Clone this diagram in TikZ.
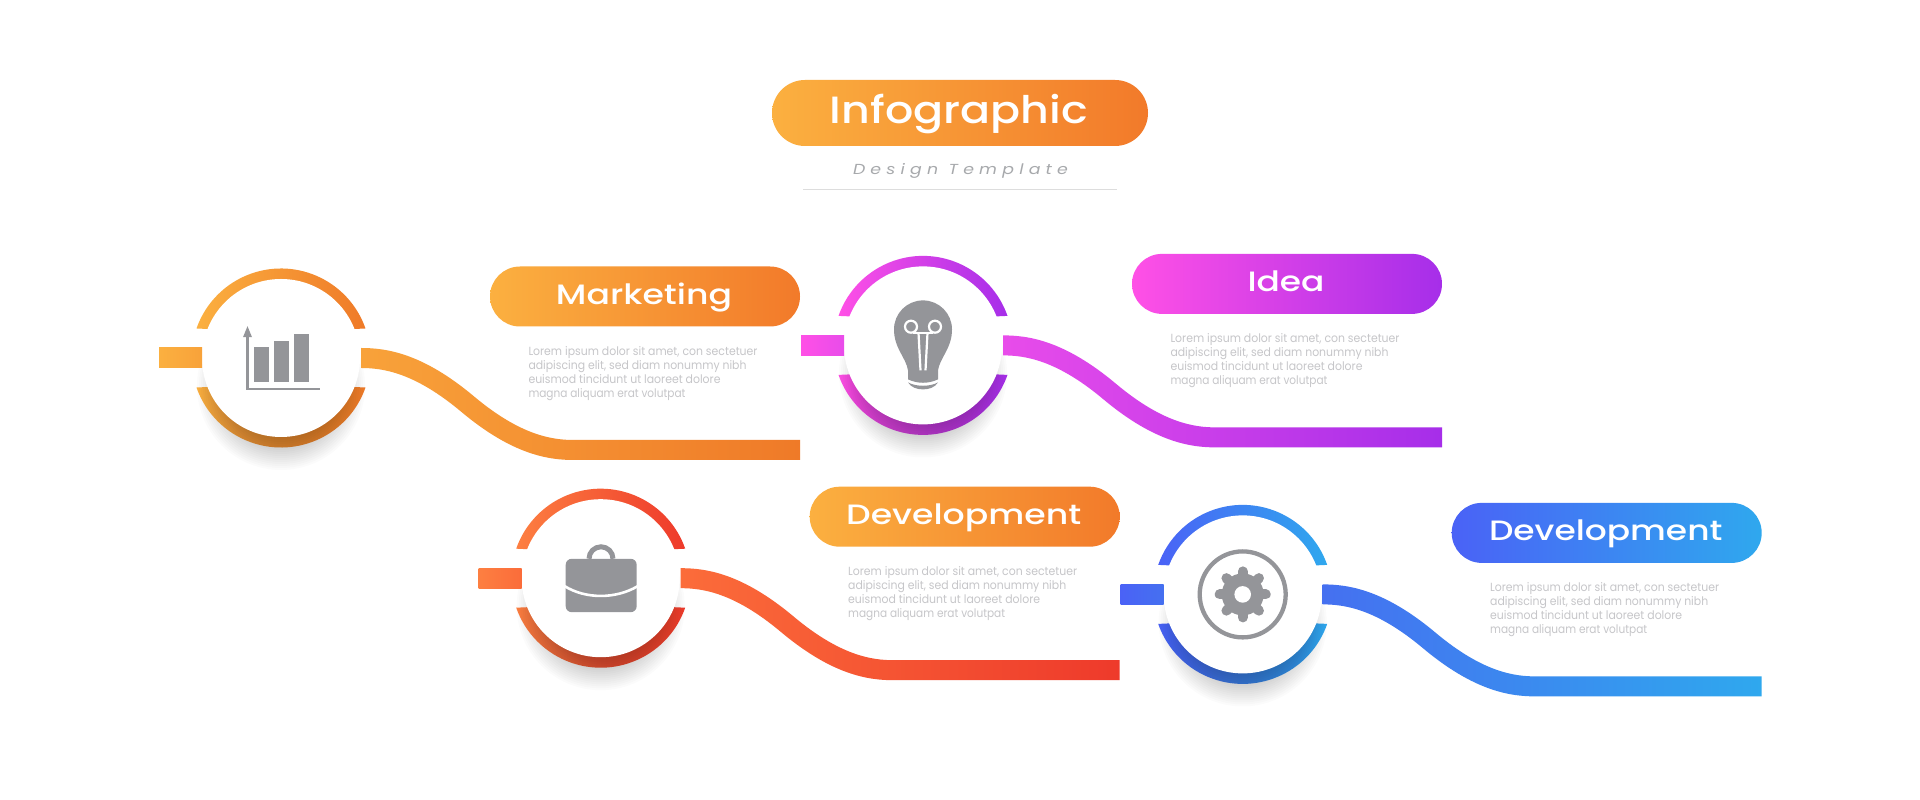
\documentclass[tikz,border=0pt]{standalone}
\usepackage{fontspec}
\usepackage{graphicx}
\usetikzlibrary{calc,shapes.misc}
\setmainfont{Poppins}
\newfontfamily\headfont{Poppins Medium}
\newfontfamily\bodyfont{Poppins}
\newfontfamily\subfont{Poppins}[LetterSpace=30]
\definecolor{iconc}{HTML}{949599}
\definecolor{bodyc}{HTML}{C6C6C9}
\definecolor{subc}{HTML}{A7A9AC}
\definecolor{rulec}{HTML}{DDDDDD}
\definecolor{oa}{HTML}{FBB040}\definecolor{om}{HTML}{F8A23A}\definecolor{ob}{HTML}{EF7A28}
\definecolor{pa}{HTML}{FF50E6}\definecolor{pm}{HTML}{E84CEA}\definecolor{pb}{HTML}{A62EE9}
\definecolor{ra}{HTML}{FD7F41}\definecolor{rm}{HTML}{FB6C3A}\definecolor{rb}{HTML}{EE3A2B}
\definecolor{ba}{HTML}{4A62F6}\definecolor{bm}{HTML}{4570F0}\definecolor{bb}{HTML}{2FA8EE}
\definecolor{opa}{HTML}{FBB040}\definecolor{opb}{HTML}{F27A2A}
\tikzset{
  disc/.style={circle,fill=white,minimum size=158pt,inner sep=0pt,outer sep=0pt},
  pill/.style={rounded rectangle,minimum width=310pt,minimum height=60pt,inner sep=0pt,outer sep=0pt},
  titlepill/.style={rounded rectangle,minimum width=376pt,minimum height=66pt,inner sep=0pt,outer sep=0pt},
  head/.style={anchor=base,inner sep=0pt,text=white,font=\headfont\fontsize{28}{30}\selectfont},
  bodyline/.style={anchor=base west,inner sep=0pt,text=bodyc,font=\bodyfont\fontsize{11.8}{14}\selectfont},
  icon/.style={fill=iconc},
  iconline/.style={draw=iconc},
  cut/.style={draw=white,line width=2.2pt,fill=none}
}
% id, cx, cy (from top), light, mid, dark, pill light, pill dark
\newcommand\stage[8]{%
  \pgfmathsetmacro\cyy{800-#3}
  \begin{scope}[shift={(#2,\cyy)}]
    \shade[left color=#4,right color=#6] (19.25:89.5) arc[start angle=19.25,end angle=160.75,radius=89.5]
      -- (158.2:78) arc[start angle=158.2,end angle=21.8,radius=78] -- cycle;
    \shade[left color=#4,right color=#6] (-19.25:89.5) arc[start angle=-19.25,end angle=-160.75,radius=89.5]
      -- (-158.2:78) arc[start angle=-158.2,end angle=-21.8,radius=78] -- cycle;
    \foreach \i in {0,...,17} \fill[black,opacity=.015] (0,-28) circle[radius=50+2*\i];
    \node[disc] (c#1) at (0,0) {};
  \end{scope}
  \shade[left color=#4,right color=#5] ($(c#1.west)+(-43,-10)$) rectangle ($(c#1.west)+(0,10)$);
  \begin{scope}[shift={($(c#1.east)+(1,0)$)},yscale=-1]
    \shade[left color=#5,right color=#6] (0,-10)
      .. controls (24.9,-10) and (61.06,-5.17) .. (112.9,38.34)
      .. controls (159.77,77.63) and (191.4,82) .. (213,82)
      -- (439,82) -- (439,102) -- (213,102)
      .. controls (188.1,102) and (151.94,97.17) .. (100.1,53.66)
      .. controls (53.23,14.37) and (21.6,10) .. (0,10) -- cycle;
  \end{scope}
  \node[pill,left color=#7,right color=#8] (p#1) at ([shift={(364,61.5)}]c#1) {};
}
\newcommand\stagetext[3]{%
  \node[head] (h#1) at ([shift={(363,53.5)}]c#1) {\resizebox{#2pt}{\height}{#3}};
  \node[bodyline] (la#1) at ([shift={(247.3,2.7)}]c#1) {\resizebox{229pt}{\height}{Lorem ipsum dolor sit amet, con sectetuer}};
  \node[bodyline] (lb#1) at ([shift={(247.3,-11.3)}]c#1) {\resizebox{218pt}{\height}{adipiscing elit, sed diam nonummy nibh}};
  \node[bodyline] (lc#1) at ([shift={(247.3,-25.3)}]c#1) {\resizebox{192pt}{\height}{euismod tincidunt ut laoreet dolore}};
  \node[bodyline] (ld#1) at ([shift={(247.3,-39.3)}]c#1) {\resizebox{157pt}{\height}{magna aliquam erat volutpat}};
}
\begin{document}
\begin{tikzpicture}[x=1pt,y=1pt]
\fill[white] (0,0) rectangle (1920,800);
\useasboundingbox (0,0) rectangle (1920,800);
% title
\node[titlepill,left color=opa,right color=opb] (title) at (960,687) {};
\node[anchor=base,inner sep=0pt,text=white,font=\headfont\fontsize{38}{40}\selectfont] (titletext) at (959,676) {\resizebox{258pt}{\height}{Infographic}};
\node[anchor=base,inner sep=0pt,text=subc,font=\subfont\itshape\fontsize{14.5}{16}\selectfont] (subtitle) at (960.5,625) {\resizebox{215pt}{\height}{Design Template}};
\coordinate (ruleL) at (803,610.7);
\coordinate (ruleR) at (1117,610.7);
\draw[rulec,line width=1pt] (ruleL) -- (ruleR);
% stages
\stage{1}{281}{358}{oa}{om}{ob}{opa}{opb}
\stagetext{1}{176}{Marketing}
\stage{2}{923}{345.4}{pa}{pm}{pb}{pa}{pb}
\stagetext{2}{77}{Idea}
\stage{3}{600.7}{578.2}{ra}{rm}{rb}{opa}{opb}
\stagetext{3}{235}{Development}
\stage{4}{1242.7}{594.4}{ba}{bm}{bb}{ba}{bb}
\stagetext{4}{233.4}{Development}
% chart icon
\begin{scope}[shift={(c1)}]
  \draw[iconline,line width=2.4pt] (-33.7,22) -- (-33.7,-31) -- (39,-31);
  \fill[icon] (-33.5,31.8) -- (-38,20.8) -- (-29,20.8) -- cycle;
  \fill[icon] (-27,-23.8) rectangle (-12,10.8);
  \fill[icon] (-7,-23.8) rectangle (8,16.8);
  \fill[icon] (13,-23.8) rectangle (28,24.2);
\end{scope}
% bulb icon
\begin{scope}[shift={(c2)}]
  \fill[icon] (-15,-34) -- (-15,-25) .. controls (-17,-12) and (-29,-3) .. (-29,16)
    arc[start angle=180,end angle=0,radius=29]
    .. controls (29,-3) and (17,-12) .. (15,-25) -- (15,-34)
    .. controls (5,-38.5) and (-5,-38.5) .. (-15,-34) -- cycle;
  \fill[icon] (-15,-37) .. controls (-7,-41.5) and (7,-41.5) .. (15,-37)
    .. controls (12,-42) and (6,-44) .. (0,-44) .. controls (-6,-44) and (-12,-42) .. (-15,-37) -- cycle;
  \draw[cut] (-12,18.7) circle[radius=6];
  \draw[cut] (12,18.7) circle[radius=6];
  \draw[cut] (-10,12.5) -- (10,12.5);
  \draw[cut] (-4.5,12.5) -- (-2.5,-25);
  \draw[cut] (4.5,12.5) -- (2.5,-25);
\end{scope}
% briefcase icon
\begin{scope}[shift={(c3)}]
  \draw[iconline,line width=5pt] (-11.7,19.4) arc[start angle=180,end angle=0,radius=12];
  \fill[icon,rounded corners=6pt] (-35,-34) rectangle (36,19.4);
  \draw[white,line width=2.6pt] (-36,-8) .. controls (-15,-21) and (15,-21) .. (37,-8);
\end{scope}
% gear icon
\begin{scope}[shift={(c4)}]
  \draw[iconline,line width=4.3pt] (0,0) circle[radius=43];
  \fill[icon] (0,0) circle[radius=21];
  \foreach \a in {0,45,...,315} \draw[iconline,line width=10pt,line cap=round] (\a:15) -- (\a:23);
  \fill[white] (0,0) circle[radius=8.3];
\end{scope}
\end{tikzpicture}
\end{document}
